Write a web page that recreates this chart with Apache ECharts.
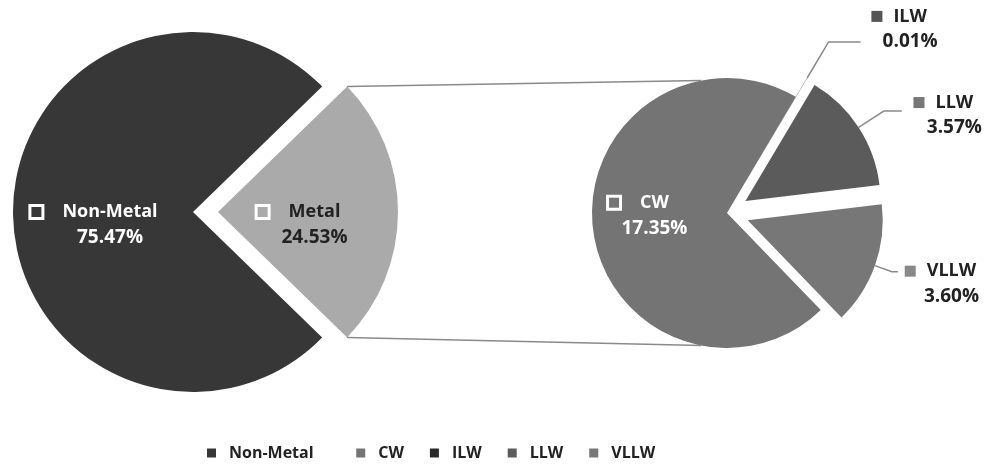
<!DOCTYPE html>
<html><head><meta charset="utf-8">
<script src="https://cdn.jsdelivr.net/npm/echarts@6/dist/echarts.min.js"></script>
<style>html,body{margin:0;padding:0;background:#fff}#c{width:987px;height:465px}</style>
</head><body><div id="c"></div>
<script>
const leftCategories = ['Metal', 'Non-Metal'];
const leftValues = [24.53, 75.47];
const rightCategories = ['CW', 'ILW', 'LLW', 'VLLW'];
const rightValues = [17.35, 0.01, 3.57, 3.60];
const legendItems = ['Non-Metal', 'CW', 'ILW', 'LLW', 'VLLW'];

const FONT = '"Open Sans", "Noto Sans", sans-serif';
const leftColors = {'Metal': '#aaaaaa', 'Non-Metal': '#373737'};
const rightColors = {'CW': '#747474', 'ILW': '#2a2a2a', 'LLW': '#5b5b5b', 'VLLW': '#777777'};
const labelIcon = {'ILW': '#555555', 'LLW': '#777777', 'VLLW': '#888888'};

const LC = [193, 212], LR = 180, LOFF = 25;
const RC = [727, 213], RR = 135, ROFF = 22;
const leftTotal = leftValues.reduce((a, b) => a + b, 0);
const leftStart = leftValues[0] / leftTotal * 180;

// inside-label styling (hollow square + name, percentage centred under name)
const boxRich = (txtColor, fill) => ({
  box: {width: 10, height: 10, borderColor: '#fff', borderWidth: 3, backgroundColor: fill, align: 'center'},
  t: {color: txtColor, fontWeight: 'bold', fontSize: 18, fontFamily: FONT, lineHeight: 26, padding: [0, 0, 0, 21], align: 'center'},
  p: {color: txtColor, fontWeight: 'bold', fontSize: 19, fontFamily: FONT, lineHeight: 26, padding: [0, 0, 0, 31], align: 'center'}
});
const insidePad = {'Non-Metal': [26, 11, 0, 0], 'Metal': [26, 24, 0, 0], 'CW': [0, 36, 11, 0]};
const insideLabel = (n, txtColor, fill) => ({
  show: true, position: 'inside', padding: insidePad[n],
  formatter: p => '{box|}{t|' + p.name + '}\n{p|' + p.value.toFixed(2) + '%}',
  rich: boxRich(txtColor, fill)
});

const leftData = leftCategories.map((n, i) => ({
  name: n, value: leftValues[i], selected: n === 'Metal',
  itemStyle: {color: leftColors[n]},
  label: insideLabel(n, n === 'Metal' ? '#222' : '#fff', leftColors[n])
}));

const outerLine = {
  'ILW': {length: 42, length2: 32, dist: 0},
  'LLW': {length: 30, length2: 18, dist: 3},
  'VLLW': {length: 18, length2: 6, dist: 4}
};
const outerPad = {'ILW': [0, 0, 26, 0], 'LLW': [8, 0, 0, 0], 'VLLW': [24, 0, 0, 0]};

const rightData = rightCategories.map((n, i) => {
  const inside = n === 'CW';
  return {
    name: n, value: rightValues[i], selected: !inside,
    itemStyle: {color: rightColors[n]},
    label: inside ? insideLabel(n, '#fff', rightColors[n]) : {
      show: true, position: 'outside', distanceToLabelLine: outerLine[n].dist, padding: outerPad[n],
      formatter: p => '{sq|}{t|' + p.name + '}\n{p|' + p.value.toFixed(2) + '%}',
      rich: {
        sq: {width: 11, height: 11, backgroundColor: labelIcon[n], align: 'center'},
        t: {color: '#222', fontWeight: 'bold', fontSize: 18, fontFamily: FONT, lineHeight: 25, padding: [0, 0, 0, 11], align: 'center'},
        p: {color: '#222', fontWeight: 'bold', fontSize: 19, fontFamily: FONT, lineHeight: 25, padding: [0, 0, 0, 22], align: 'center'}
      }
    },
    labelLine: inside ? {show: false} : {
      show: true, length: outerLine[n].length, length2: outerLine[n].length2,
      lineStyle: {color: '#8a8a8a', width: 1.5}
    }
  };
});

function pt(c, r, deg, dx) {
  const a = deg * Math.PI / 180;
  return [c[0] + (dx || 0) + r * Math.cos(a), c[1] - r * Math.sin(a)];
}
const topA = pt(LC, LR, leftStart, LOFF), botA = pt(LC, LR, -leftStart, LOFF);
const topB = pt(RC, RR, 101), botB = pt(RC, RR, -101);

const chart = echarts.init(document.getElementById('c'));
chart.setOption({
  backgroundColor: '#fff',
  animation: false,
  textStyle: {fontFamily: FONT},
  legend: {
    data: legendItems,
    formatter: n => n === 'Non-Metal' ? n + '    ' : n,
    top: 440, left: 202, icon: 'rect',
    itemWidth: 9, itemHeight: 9, itemGap: 26, selectedMode: false,
    textStyle: {fontSize: 16, fontWeight: 'bold', color: '#222', fontFamily: FONT, padding: [0, 0, 0, 8]}
  },
  graphic: [
    {type: 'line', shape: {x1: topA[0], y1: topA[1], x2: topB[0], y2: topB[1]}, style: {stroke: '#8a8a8a', lineWidth: 1.5}, z: 10},
    {type: 'line', shape: {x1: botA[0], y1: botA[1], x2: botB[0], y2: botB[1]}, style: {stroke: '#8a8a8a', lineWidth: 1.5}, z: 10}
  ],
  series: [
    {
      type: 'pie', center: LC, radius: [0, LR], startAngle: leftStart, clockwise: true,
      selectedMode: 'multiple', selectedOffset: LOFF, avoidLabelOverlap: false,
      emphasis: {disabled: true},
      data: leftData
    },
    {
      type: 'pie', center: RC, radius: [0, RR], startAngle: -46, clockwise: true,
      selectedMode: 'multiple', selectedOffset: ROFF, avoidLabelOverlap: false,
      minShowLabelAngle: 0, labelLine: {minTurnAngle: 0},
      emphasis: {disabled: true},
      data: rightData
    }
  ]
});
</script></body></html>
